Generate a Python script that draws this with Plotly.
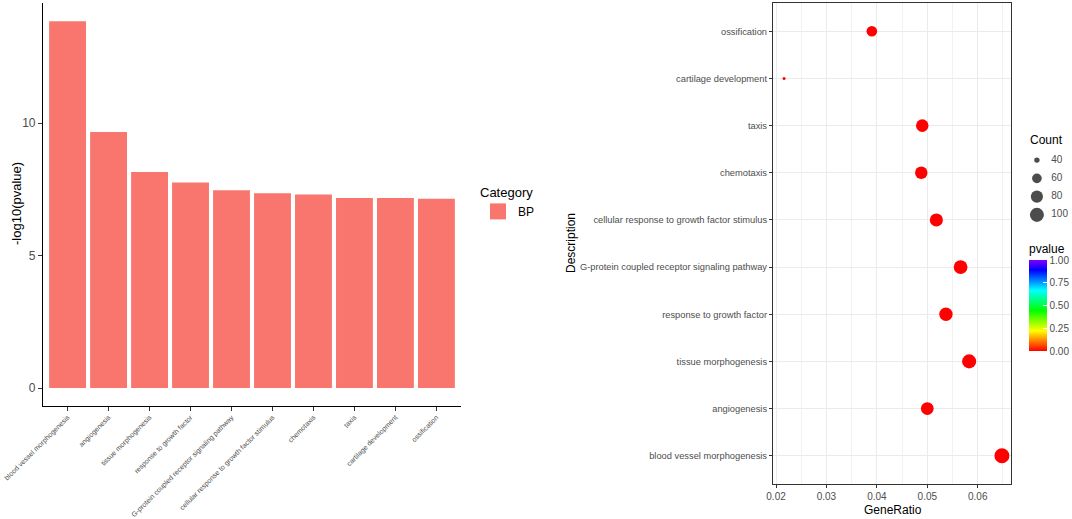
import numpy as np
import plotly.graph_objects as go

# ---------------- data ----------------
terms = [
    "blood vessel morphogenesis",
    "angiogenesis",
    "tissue morphogenesis",
    "response to growth factor",
    "G-protein coupled receptor signaling pathway",
    "cellular response to growth factor stimulus",
    "chemotaxis",
    "taxis",
    "cartilage development",
    "ossification",
]
neg_log10_p = [13.85, 9.67, 8.16, 7.76, 7.47, 7.36, 7.31, 7.18, 7.18, 7.15]
gene_ratio = [0.0648, 0.0500, 0.0583, 0.0537, 0.0566, 0.0518, 0.0488, 0.0490, 0.0216, 0.0390]
counts = [111, 86, 100, 92, 97, 89, 83, 84, 37, 67]
pvalues = [10 ** (-v) for v in neg_log10_p]
category = "BP"
count_breaks = [40, 60, 80, 100]
pvalue_ticks = [0.0, 0.25, 0.5, 0.75, 1.0]

# ---------------- styling helpers ----------------
FONT = "Liberation Sans, Arial, sans-serif"
GREY = "#4D4D4D"
BAR_COLOR = "#F8766D"
W, H = 1072, 519

cmin_c, cmax_c = min(counts), max(counts)
D_MIN, D_MAX = 3.0, 15.0


def size_of(c):
    t = (c - cmin_c) / (cmax_c - cmin_c)
    t = min(max(t, 0.0), 1.0)
    return D_MIN + (D_MAX - D_MIN) * np.sqrt(t)


rainbow = [
    [0.0, "#FF0000"],
    [0.111, "#FF8000"],
    [0.222, "#FFFF00"],
    [0.444, "#00FF00"],
    [0.667, "#00FFFF"],
    [0.889, "#0000FF"],
    [1.0, "#8000FF"],
]


def px_x(p):
    return p / W


def px_y(p):
    return 1 - p / H


fig = go.Figure()

# ---------------- left bar chart ----------------
fig.add_trace(go.Bar(
    x=terms, y=neg_log10_p, width=0.9,
    marker=dict(color=BAR_COLOR, line=dict(width=0)),
    xaxis="x", yaxis="y", showlegend=False, name=category,
))
# legend key for Category
fig.add_trace(go.Scatter(
    x=[None], y=[None], mode="markers", name=category,
    marker=dict(symbol="square", size=16, color=BAR_COLOR),
    xaxis="x", yaxis="y", legend="legend", showlegend=True,
))

# ---------------- right dot plot ----------------
fig.add_trace(go.Scatter(
    x=gene_ratio, y=terms, mode="markers",
    marker=dict(
        size=[size_of(c) for c in counts],
        sizemode="diameter", opacity=1,
        color=pvalues, cmin=0, cmax=1, colorscale=rainbow,
        line=dict(width=0),
        colorbar=dict(
            title=dict(text="pvalue", side="top", font=dict(size=12, color="black", family=FONT)),
            x=px_x(1029), xanchor="left",
            y=px_y(241), yanchor="top",
            len=110, lenmode="pixels",
            thickness=18, thicknessmode="pixels",
            xpad=0, ypad=0, outlinewidth=0,
            tickvals=pvalue_ticks,
            ticktext=[f"{v:.2f}" for v in pvalue_ticks],
            ticks="inside", ticklen=4, tickcolor="white",
            tickfont=dict(size=10, color=GREY, family=FONT),
        ),
    ),
    xaxis="x2", yaxis="y2", showlegend=False, hoverinfo="x+y",
))

# ---------------- Count size key (own small axes) ----------------
key_rows = list(range(len(count_breaks)))
fig.add_trace(go.Scatter(
    x=[0.22] * len(count_breaks), y=key_rows, mode="markers",
    marker=dict(size=[size_of(b) for b in count_breaks], color="black", line=dict(width=0)),
    xaxis="x3", yaxis="y3", showlegend=False, hoverinfo="skip",
))
fig.add_trace(go.Scatter(
    x=[0.54] * len(count_breaks), y=key_rows, mode="text",
    text=[str(b) for b in count_breaks], textposition="middle right",
    textfont=dict(size=10, color=GREY, family=FONT),
    xaxis="x3", yaxis="y3", showlegend=False, hoverinfo="skip",
))

hidden = dict(visible=False, showgrid=False, zeroline=False, automargin=False, fixedrange=True)

fig.update_layout(
    width=W, height=H,
    margin=dict(l=0, r=0, t=0, b=0, autoexpand=False),
    paper_bgcolor="white", plot_bgcolor="white",
    font=dict(family=FONT, color="black"),
    xaxis=dict(
        domain=[px_x(43), px_x(461)],
        type="category", categoryorder="array", categoryarray=terms,
        range=[-0.6, 9.6], automargin=False,
        showline=True, linecolor="black", linewidth=1.2,
        ticks="outside", ticklen=4, tickcolor="#333333",
        tickangle=-45, tickfont=dict(size=7, color=GREY),
        showgrid=False, zeroline=False, anchor="y", fixedrange=True,
    ),
    yaxis=dict(
        domain=[px_y(405.5), px_y(3)],
        range=[-0.66, 14.54], automargin=False,
        tickvals=[0, 5, 10],
        showline=True, linecolor="black", linewidth=1.2,
        ticks="outside", ticklen=4, tickcolor="#333333",
        tickfont=dict(size=12, color=GREY),
        showgrid=False, zeroline=False, anchor="x",
    ),
    xaxis2=dict(
        domain=[px_x(773), px_x(1011)],
        range=[0.0194, 0.0666], automargin=False,
        tickvals=[0.02, 0.03, 0.04, 0.05, 0.06],
        ticktext=["0.02", "0.03", "0.04", "0.05", "0.06"],
        showline=True, linecolor="#333333", linewidth=1.2, mirror=True,
        ticks="outside", ticklen=3, tickcolor="#333333",
        tickfont=dict(size=10, color=GREY),
        showgrid=True, gridcolor="#EBEBEB", gridwidth=1,
        minor=dict(tickvals=[0.025, 0.035, 0.045, 0.055, 0.065],
                   showgrid=True, gridcolor="#F2F2F2", gridwidth=0.6, ticklen=0),
        zeroline=False, anchor="y2",
    ),
    yaxis2=dict(
        domain=[px_y(484), px_y(3)],
        type="category", categoryorder="array", categoryarray=terms,
        range=[-0.6, 9.6], automargin=False,
        showline=True, linecolor="#333333", linewidth=1.2, mirror=True,
        ticks="outside", ticklen=3, tickcolor="#333333",
        tickfont=dict(size=9.3, color=GREY),
        showgrid=True, gridcolor="#EBEBEB", gridwidth=1,
        zeroline=False, anchor="x2",
    ),
    xaxis3=dict(domain=[px_x(1027), px_x(1072)], range=[0, 1], anchor="y3", **hidden),
    yaxis3=dict(domain=[px_y(224), px_y(151)], range=[3.5, -0.5], anchor="x3", **hidden),
    legend=dict(
        title=dict(text="Category", font=dict(size=13, color="black")),
        x=px_x(478), xanchor="left", y=px_y(180), yanchor="top",
        font=dict(size=12, color="black"), bgcolor="rgba(0,0,0,0)",
        itemsizing="trace", itemwidth=30,
    ),
    annotations=[
        dict(text="-log10(pvalue)", x=px_x(16), y=px_y(204), xref="paper", yref="paper",
             textangle=-90, showarrow=False, font=dict(size=13, color="black"),
             xanchor="center", yanchor="middle"),
        dict(text="Description", x=px_x(571), y=px_y(243), xref="paper", yref="paper",
             textangle=-90, showarrow=False, font=dict(size=12, color="black"),
             xanchor="center", yanchor="middle"),
        dict(text="GeneRatio", x=px_x(893), y=px_y(510), xref="paper", yref="paper",
             showarrow=False, font=dict(size=12, color="black"),
             xanchor="center", yanchor="middle"),
        dict(text="Count", x=px_x(1028), y=px_y(140), xref="paper", yref="paper",
             showarrow=False, font=dict(size=12, color="black"),
             xanchor="left", yanchor="middle"),
    ],
)

fig.write_html(
    "out.html",
    config={"displayModeBar": False},
    post_script="document.body.style.margin='0';document.body.style.padding='0';",
)
